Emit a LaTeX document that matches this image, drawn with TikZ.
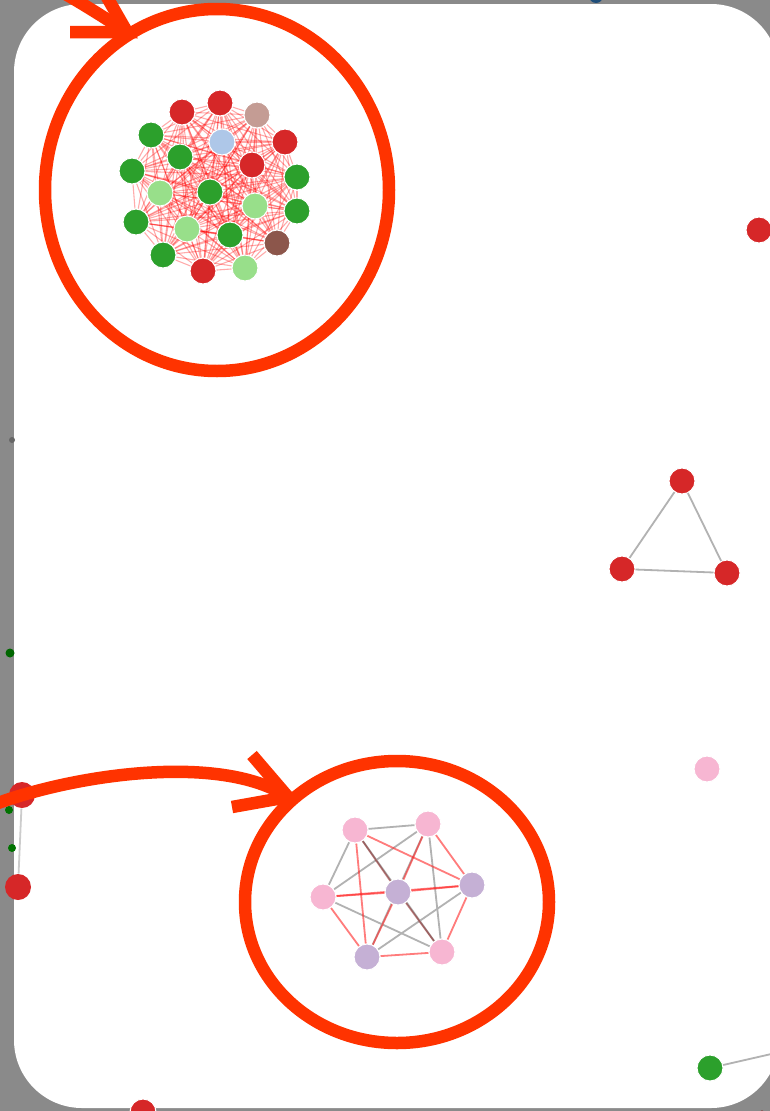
\documentclass[tikz,border=0pt]{standalone}
\usepackage{tikz}
\usetikzlibrary{backgrounds}

\definecolor{mkred}{HTML}{FF3300}
\definecolor{tred}{HTML}{D62728}
\definecolor{tgreen}{HTML}{2CA02C}
\definecolor{tlgreen}{HTML}{98DF8A}
\definecolor{tlblue}{HTML}{AEC7E8}
\definecolor{tbrown}{HTML}{8C564B}
\definecolor{tlbrown}{HTML}{C49C94}
\definecolor{tpink}{HTML}{F7B6D2}
\definecolor{tpurple}{HTML}{C5B0D5}
\definecolor{tnavy}{HTML}{1F4E79}
\definecolor{bggray}{HTML}{8A8A8A}

\begin{document}
\begin{tikzpicture}[
    x=1pt, y=-1pt,
    vertex/.style={circle, inner sep=0pt, minimum size=26pt, draw=white, line width=1pt},
    dot/.style={circle, inner sep=0pt, minimum size=9pt},
    link/.style={draw=black!30, line width=1.8pt},
    redlink/.style={draw=red!85, opacity=0.6, line width=1.8pt},
    darklink/.style={draw=red!50!black, opacity=0.45, line width=1.8pt},
    cliquelink/.style={draw=red, opacity=0.33, line width=1.1pt},
    markup/.style={draw=mkred, line width=12.5pt}
  ]
  \clip (0,0) rectangle (770,1111);

  % Background and panel
  \begin{scope}[on background layer]
    \fill[bggray] (0,0) rectangle (770,1111);
    \fill[white, rounded corners=68pt] (14,4) rectangle (779,1108);
  \end{scope}

  % Big cluster
  \node[vertex, fill=tred]     (a1)  at (182,112) {};
  \node[vertex, fill=tred]     (a2)  at (220,103) {};
  \node[vertex, fill=tlbrown]  (a3)  at (257,115) {};
  \node[vertex, fill=tgreen]   (a4)  at (151,135) {};
  \node[vertex, fill=tlblue]   (a5)  at (222,142) {};
  \node[vertex, fill=tred]     (a6)  at (285,142) {};
  \node[vertex, fill=tgreen]   (a7)  at (180,157) {};
  \node[vertex, fill=tred]     (a8)  at (252,165) {};
  \node[vertex, fill=tgreen]   (a9)  at (132,171) {};
  \node[vertex, fill=tgreen]   (a10) at (297,177) {};
  \node[vertex, fill=tlgreen]  (a11) at (160,193) {};
  \node[vertex, fill=tgreen]   (a12) at (210,192) {};
  \node[vertex, fill=tlgreen]  (a13) at (255,206) {};
  \node[vertex, fill=tgreen]   (a14) at (297,211) {};
  \node[vertex, fill=tgreen]   (a15) at (136,222) {};
  \node[vertex, fill=tlgreen]  (a16) at (187,229) {};
  \node[vertex, fill=tgreen]   (a17) at (230,235) {};
  \node[vertex, fill=tbrown]   (a18) at (277,243) {};
  \node[vertex, fill=tgreen]   (a19) at (163,255) {};
  \node[vertex, fill=tred]     (a20) at (203,271) {};
  \node[vertex, fill=tlgreen]  (a21) at (245,268) {};

  \begin{scope}[on background layer]
    \foreach \i in {1,...,20}{
      \pgfmathtruncatemacro{\k}{\i+1}
      \foreach \j in {\k,...,21}
        \draw[cliquelink] (a\i) -- (a\j);
    }
  \end{scope}

  % Small cluster
  \node[vertex, fill=tpink]   (b1) at (355,830) {};
  \node[vertex, fill=tpink]   (b2) at (428,824) {};
  \node[vertex, fill=tpink]   (b3) at (323,897) {};
  \node[vertex, fill=tpurple] (b4) at (398,892) {};
  \node[vertex, fill=tpurple] (b5) at (472,885) {};
  \node[vertex, fill=tpurple] (b6) at (367,957) {};
  \node[vertex, fill=tpink]   (b7) at (442,952) {};

  \begin{scope}[on background layer]
    \draw[link] (b1) -- (b2);
    \draw[link] (b1) -- (b3);
    \draw[link] (b2) -- (b3);
    \draw[link] (b2) -- (b7);
    \draw[link] (b3) -- (b7);
    \draw[link] (b5) -- (b6);
    \draw[link] (b1) -- (b7);
    \draw[link] (b2) -- (b6);
    \draw[redlink] (b1) -- (b5);
    \draw[redlink] (b1) -- (b6);
    \draw[redlink] (b2) -- (b4);
    \draw[redlink] (b2) -- (b5);
    \draw[redlink] (b3) -- (b4);
    \draw[redlink] (b3) -- (b5);
    \draw[redlink] (b3) -- (b6);
    \draw[redlink] (b4) -- (b5);
    \draw[redlink] (b4) -- (b6);
    \draw[redlink] (b5) -- (b7);
    \draw[redlink] (b6) -- (b7);
    \draw[darklink] (b1) -- (b4);
    \draw[darklink] (b4) -- (b7);
  \end{scope}

  % Triangle
  \node[vertex, fill=tred] (t1) at (682,481) {};
  \node[vertex, fill=tred] (t2) at (622,569) {};
  \node[vertex, fill=tred] (t3) at (727,573) {};
  \draw[link] (t1) -- (t2);
  \draw[link] (t1) -- (t3);
  \draw[link] (t2) -- (t3);

  % Loose vertices
  \node[vertex, fill=tred]  (r1) at (759,230) {};
  \node[vertex, fill=tpink] (p1) at (707,769) {};
  \node[vertex, fill=tred]  (r2) at (143,1112) {};
  \node[vertex, fill=tgreen] (g5) at (710,1068) {};
  \coordinate (g5end) at (780,1052);
  \draw[link] (g5) -- (g5end);
  \node[dot, fill=red!50!black] (r3) at (762,1115) {};
  \node[dot, fill=tnavy, minimum size=14pt] (n1) at (596,-4) {};

  % Left edge
  \node[dot, fill=black!60, minimum size=6pt] (k1) at (12,440) {};
  \node[dot, fill=green!40!black] (g1) at (10,653) {};
  \node[vertex, draw=none, fill=tred] (l1) at (22,795) {};
  \node[vertex, draw=none, fill=tred] (l2) at (18,887) {};
  \node[dot, fill=green!45!black, minimum size=8pt] (g2) at (9,810) {};
  \node[dot, fill=green!45!black, minimum size=8pt] (g3) at (12,848) {};
  \begin{scope}[on background layer]
    \draw[link, black!20] (l1) -- (l2);
  \end{scope}

  % Highlight circles
  \draw[markup] (217,190) ellipse [x radius=172pt, y radius=181pt];
  \draw[markup] (397,902) ellipse [x radius=152pt, y radius=141pt];

  % Highlight arrows
  \coordinate (tipA) at (127,32);
  \coordinate (startA) at (30,-25);
  \draw[markup] (startA) .. controls (70,-5) and (100,15) .. (tipA);
  \draw[markup, line join=miter] (70,32) -- (tipA) -- (104,-8);

  \coordinate (tipB) at (288,797);
  \coordinate (startB) at (-10,806);
  \draw[markup] (startB) .. controls (70,775) and (220,752) .. (tipB);
  \draw[markup, line join=miter] (232,807) -- (tipB) -- (252,755);
\end{tikzpicture}
\end{document}
